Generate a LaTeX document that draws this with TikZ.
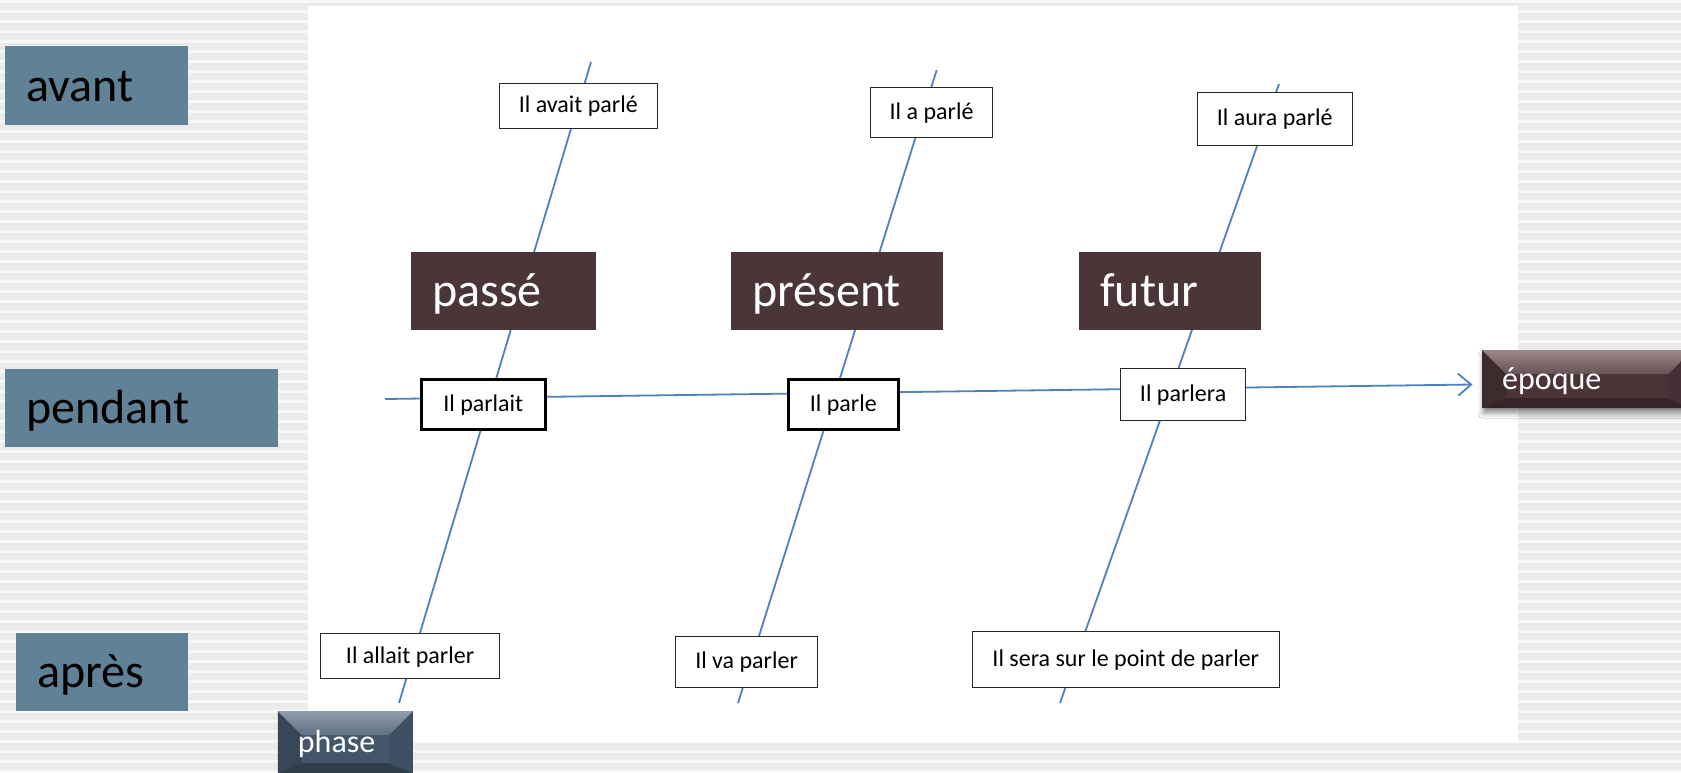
\documentclass[tikz,border=0pt]{standalone}
\usepackage{fontspec}
\setmainfont{Carlito}
\usetikzlibrary{arrows.meta,shadows.blur}
\definecolor{linecol}{HTML}{4F81BD}
\definecolor{slatebox}{HTML}{618196}
\definecolor{brownbox}{HTML}{4A3539}
\definecolor{btnbrown}{HTML}{4A3438}
\definecolor{btnbrownlt}{HTML}{9C868A}
\definecolor{btnslate}{HTML}{43566A}
\definecolor{btnslatelt}{HTML}{8E9EAC}
\definecolor{bggray}{HTML}{EBEBEB}
\tikzset{
  axis/.style={draw=linecol, line width=1.8pt},
  biglabel/.style={rectangle, anchor=north west, fill=#1, align=left,
    font=\fontsize{48}{58}\selectfont, inner xsep=21pt, inner ysep=0pt,
    text height=36pt, text depth=5pt},
  smallbox/.style={rectangle, anchor=north west, draw=black!85, line width=1.2pt,
    fill=white, font=\fontsize{24}{29}\selectfont, inner sep=0pt,
    text height=17pt, text depth=3pt},
  thickbox/.style={smallbox, line width=2.6pt, draw=black},
  bevelbtn/.style n args={2}{rectangle, anchor=north west, fill=#1, text=white,
    align=left, font=\fontsize{32}{38}\selectfont, inner xsep=20pt, inner ysep=0pt,
    text height=23pt, text depth=3pt,
    path picture={
      \fill[#1!82!black] (path picture bounding box.north west)
        -- ([shift={(24pt,-24pt)}]path picture bounding box.north west)
        -- ([shift={(24pt,10pt)}]path picture bounding box.south west)
        -- (path picture bounding box.south west) -- cycle;
      \fill[#1!72!black] (path picture bounding box.south west)
        -- (path picture bounding box.south east)
        -- ([shift={(-24pt,10pt)}]path picture bounding box.south east)
        -- ([shift={(24pt,10pt)}]path picture bounding box.south west) -- cycle;
      \fill[#1!92!black] (path picture bounding box.north east)
        -- ([shift={(-24pt,-24pt)}]path picture bounding box.north east)
        -- ([shift={(-24pt,10pt)}]path picture bounding box.south east)
        -- (path picture bounding box.south east) -- cycle;
      \shade[top color=#2, bottom color=#1!85!white] (path picture bounding box.north west)
        -- (path picture bounding box.north east)
        -- ([shift={(-24pt,-24pt)}]path picture bounding box.north east)
        -- ([shift={(24pt,-24pt)}]path picture bounding box.north west) -- cycle;
    }},
}
\begin{document}
\begin{tikzpicture}[x=1pt, y=-1pt]
  \useasboundingbox (0,0) rectangle (1681,772);
  % background
  \fill[bggray] (0,0) rectangle (1681,772);
  \foreach \yy in {0,10,...,770} \fill[white, opacity=0.6] (0,\yy) rectangle (1681,\yy+3);
  \fill[white] (308,6) rectangle (1518,742);

  % axis end points
  \coordinate (l1a) at (591,62);   \coordinate (l1b) at (399,703);
  \coordinate (l2a) at (936.7,70); \coordinate (l2b) at (738,703);
  \coordinate (l3a) at (1279,84);  \coordinate (l3b) at (1060,703);
  \coordinate (ha) at (385,399);   \coordinate (hb) at (1472.5,384.5);

  \draw[axis] (l1a) -- (l1b);
  \draw[axis] (l2a) -- (l2b);
  \draw[axis] (l3a) -- (l3b);
  \draw[axis, -{Straight Barb[length=13pt,width=22pt]}] (ha) -- (hb);

  % row labels
  \node[biglabel=slatebox, text width=141pt, minimum height=79pt] (avant) at (5,46) {avant};
  \node[biglabel=slatebox, text width=231pt, minimum height=78pt] (pendant) at (5,369) {pendant};
  \node[biglabel=slatebox, text width=130pt, minimum height=78pt] (apres) at (16,633) {après};

  % column labels
  \node[biglabel=brownbox, text width=143pt, minimum height=78pt, text=white] (passe) at (411,252) {passé};
  \node[biglabel=brownbox, text width=170pt, minimum height=78pt, text=white] (present) at (731,252) {présent};
  \node[biglabel=brownbox, text width=140pt, minimum height=78pt, text=white] (futur) at (1079,252) {futur};

  % tense boxes
  \node[smallbox, minimum width=158.5pt, minimum height=45pt] (avaitparle) at (498.5,82.5) {Il avait parlé};
  \node[smallbox, minimum width=122pt, minimum height=50pt] (aparle) at (870,86.7) {Il a parlé};
  \node[smallbox, minimum width=155pt, minimum height=53pt] (auraparle) at (1196.7,91.7) {Il aura parlé};
  \node[thickbox, minimum width=124pt, minimum height=50pt] (parlait) at (420,378) {Il parlait};
  \node[thickbox, minimum width=110pt, minimum height=50pt] (parle) at (787,378) {Il parle};
  \node[smallbox, minimum width=125pt, minimum height=52pt] (parlera) at (1120,367.7) {Il parlera};
  \node[smallbox, minimum width=179pt, minimum height=45pt] (allait) at (320,633) {Il allait parler};
  \node[smallbox, minimum width=142pt, minimum height=51pt] (vaparler) at (675,635.7) {Il va parler};
  \node[smallbox, minimum width=307pt, minimum height=56pt] (sera) at (971.7,631) {Il sera sur le point de parler};

  % buttons
  \node[bevelbtn={btnbrown}{btnbrownlt}, text width=170pt, minimum height=58pt,
        blur shadow={shadow xshift=1pt, shadow yshift=-5pt, shadow blur radius=5pt, shadow opacity=45}]
        (epoque) at (1482,350) {époque};
  \node[bevelbtn={btnslate}{btnslatelt}, text width=95pt, minimum height=62pt] (phase) at (277.7,711) {phase};
\end{tikzpicture}
\end{document}
